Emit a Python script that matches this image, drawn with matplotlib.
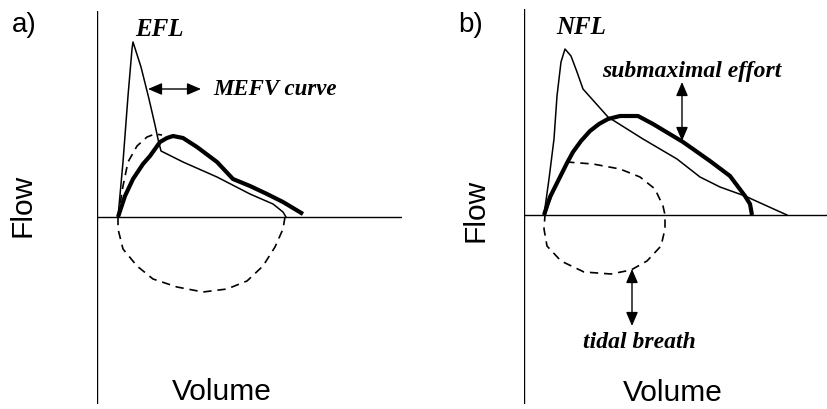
import matplotlib.pyplot as plt

# Panel a (EFL): volume / flow (pixel units from the origin)
a_mefv_vol = [21, 26, 31, 35, 36, 44, 52, 58, 61, 64, 86, 120, 153, 176, 186, 189]
a_mefv_flow = [0, 55, 121, 168, 175, 150, 118, 92, 78, 66, 55, 40, 23, 13, 5, 0]
a_sub_vol = [21, 28, 36, 46, 53, 63, 70, 76, 86, 100, 120, 136, 153, 170, 186, 206]
a_sub_flow = [0, 21, 38, 53, 61, 75, 79, 81, 79, 70, 55, 38, 31, 23, 15, 3]
a_tid_exp_vol = [21, 26, 31, 40, 50, 58, 65]
a_tid_exp_flow = [0, 31, 55, 71, 80, 83, 82]
a_tid_insp_vol = [188, 186, 178, 166, 150, 130, 106, 80, 56, 40, 26, 21, 21]
a_tid_insp_flow = [0, -12, -30, -49, -64, -72, -75, -70, -62, -49, -32, -12, 0]

# Panel b (NFL)
b_mefv_vol = [20, 25, 30, 33, 37, 41, 47, 53, 59, 84, 119, 153, 176, 196, 221, 243, 263]
b_mefv_flow = [0, 36, 76, 119, 153, 166, 159, 143, 126, 98, 76, 56, 38, 28, 19, 9, 0]
b_sub_vol = [20, 26, 32, 37, 43, 49, 57, 66, 75, 84, 96, 114, 129, 159, 186, 206, 221, 226, 228]
b_sub_flow = [0, 18, 30, 40, 52, 63, 74, 84, 91, 96, 99, 99, 91, 73, 54, 39, 19, 11, 0]
b_tid_vol = [21, 30, 37, 43, 69, 96, 116, 131, 139, 141, 141, 137, 123, 107, 87, 60, 37, 23, 20, 21]
b_tid_flow = [0, 26, 40, 53, 51, 46, 38, 26, 9, 0, -14, -31, -46, -55, -59, -57, -46, -31, -14, 0]

W, H = 828, 410
fig = plt.figure(figsize=(W / 100, H / 100), dpi=100)

serif = dict(family='Liberation Serif', style='italic', weight='bold')
sans = dict(family='Liberation Sans')


def panel(x0, y_top, y_axis, y_bot, x_end):
    ax = fig.add_axes([x0 / W, (H - y_bot) / H, (x_end - x0) / W, (y_bot - y_top) / H])
    ax.set_xlim(0, x_end - x0)
    ax.set_ylim(y_axis - y_bot, y_axis - y_top)
    ax.axis('off')
    ax.axhline(0, color='black', lw=1.0)
    ax.axvline(0, color='black', lw=1.0)
    return ax


def arrow(ax, p0, p1):
    ax.annotate('', xy=p1, xytext=p0, annotation_clip=False,
                arrowprops=dict(arrowstyle='<|-|>,head_length=0.7,head_width=0.3',
                                color='black', lw=1.0,
                                mutation_scale=12, shrinkA=0, shrinkB=0))


dash = (0, (5, 3.5))
thin = dict(color='black', lw=1.1, solid_joinstyle='round')
thick = dict(color='black', lw=3.0, solid_capstyle='butt', solid_joinstyle='round')

# ---- panel a
ax = panel(97, 12, 218, 405, 402)
ax.plot(a_mefv_vol, a_mefv_flow, **thin)
ax.plot(a_sub_vol, a_sub_flow, **thick)
ax.plot(a_tid_exp_vol, a_tid_exp_flow, color='black', lw=1.2, linestyle=dash)
ax.plot(a_tid_insp_vol, a_tid_insp_flow, color='black', lw=1.2, linestyle=dash)
arrow(ax, (51, 128), (104, 128))
ax.text(116, 128, 'MEFV curve', fontsize=16.5, ha='left', va='center', **serif)
ax.text(62, 188, 'EFL', fontsize=18, ha='center', va='center', **serif)
ax.text(-73, 193, 'a)', fontsize=20, ha='center', va='center', **sans)
ax.text(-74, 13, 'Flow', fontsize=21.5, rotation=90, ha='center', va='center', **sans)
ax.text(125, -174, 'Volume', fontsize=21.5, ha='center', va='center', **sans)

# ---- panel b
bx = panel(524, 10, 216, 405, 828)
bx.plot(b_mefv_vol, b_mefv_flow, **thin)
bx.plot(b_sub_vol, b_sub_flow, **thick)
bx.plot(b_tid_vol, b_tid_flow, color='black', lw=1.2, linestyle=dash)
arrow(bx, (158, 133), (158, 74))
arrow(bx, (108, -54), (108, -111))
bx.text(168, 144, 'submaximal effort', fontsize=17, ha='center', va='center', **serif)
bx.text(115, -127, 'tidal breath', fontsize=17, ha='center', va='center', **serif)
bx.text(57, 188, 'NFL', fontsize=18, ha='center', va='center', **serif)
bx.text(-53, 191, 'b)', fontsize=20, ha='center', va='center', **sans)
bx.text(-49, 6, 'Flow', fontsize=21.5, rotation=90, ha='center', va='center', **sans)
bx.text(149, -177, 'Volume', fontsize=21.5, ha='center', va='center', **sans)

fig.savefig('out.png', dpi=100)
